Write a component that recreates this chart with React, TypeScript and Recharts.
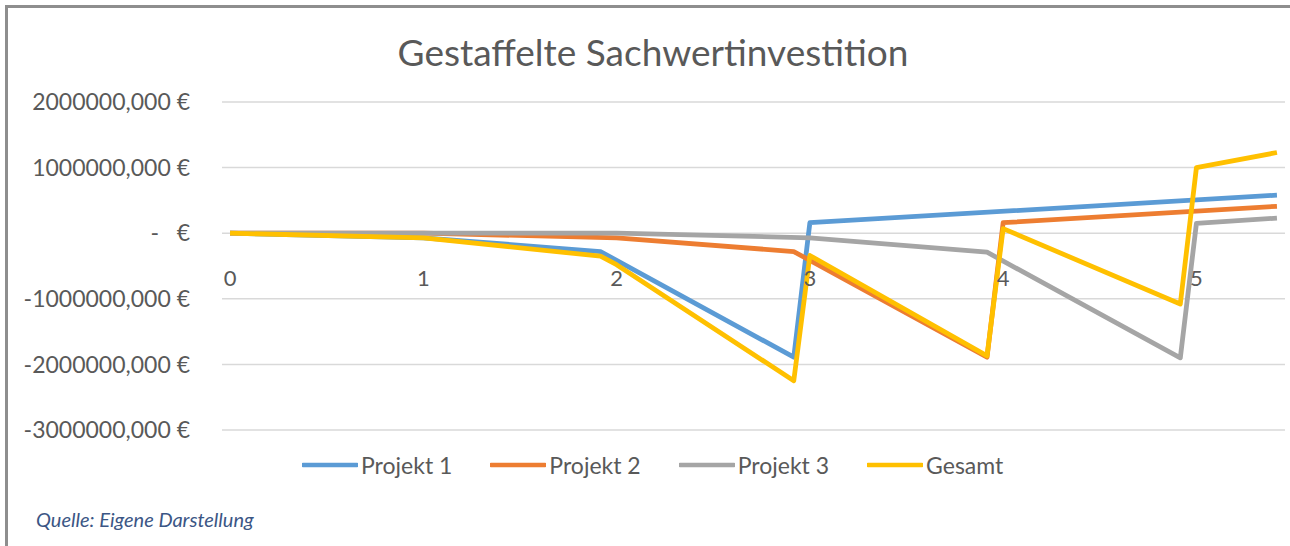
import { LineChart, Line, XAxis, YAxis, CartesianGrid, Legend } from "recharts";

// x = Monat (0..65), Beschriftung in Jahren
const yearTicks = [0, 12, 24, 36, 48, 60];
const valueTicks = [2000000, 1000000, 0, -1000000, -2000000, -3000000];

// Stützpunkte der Kurven (Monat, Wert in €)
const p1Months = [0, 12, 23, 35, 36, 65];
const p1Values = [0, -70000, -280000, -1890000, 160000, 580000];

const p2Months = [0, 12, 24, 35, 47, 48, 65];
const p2Values = [0, 0, -70000, -280000, -1890000, 160000, 410000];

const p3Months = [0, 24, 36, 47, 59, 60, 65];
const p3Values = [0, 0, -70000, -290000, -1900000, 150000, 230000];

const gesMonths = [0, 12, 23, 24, 35, 36, 47, 48, 59, 60, 65];
const gesValues = [0, -70000, -350000, -480000, -2250000, -340000, -1870000, 70000, -1080000, 1000000, 1230000];

const series = [
  { key: "p1", name: "Projekt 1", color: "#5B9BD5", months: p1Months, values: p1Values },
  { key: "p2", name: "Projekt 2", color: "#ED7D31", months: p2Months, values: p2Values },
  { key: "p3", name: "Projekt 3", color: "#A5A5A5", months: p3Months, values: p3Values },
  { key: "g", name: "Gesamt", color: "#FFC000", months: gesMonths, values: gesValues },
];

// gemeinsame Tabelle, fehlende Werte = null
const allMonths = Array.from(new Set(series.flatMap((s) => s.months))).sort((a, b) => a - b);
const table = allMonths.map((m) => {
  const row: Record<string, number | null> = { m };
  series.forEach((s) => {
    const i = s.months.indexOf(m);
    row[s.key] = i >= 0 ? s.values[i] : null;
  });
  return row;
});

const W = 1290;
const H = 546;
const Y_MIN = -3000000;
const Y_MAX = 2000000;
const M_TOP = 102;
const M_BOTTOM = 86;
const X_AXIS_H = 30;
const PLOT_H = H - M_TOP - M_BOTTOM - X_AXIS_H;
const ZERO_Y = M_TOP + (PLOT_H * Y_MAX) / (Y_MAX - Y_MIN);

const FONT = "Lato, 'Open Sans', sans-serif";
const TEXT = "#595959";

function YTick({ x, y, payload }: any) {
  const v = payload.value;
  const label = v === 0 ? "-   €" : `${v},000 €`;
  return (
    <text x={x} y={y} dy="0.36em" textAnchor="end" fill={TEXT} fontSize={23} fontFamily={FONT} style={{ whiteSpace: "pre" }}>
      {label}
    </text>
  );
}

function XTick({ x, payload }: any) {
  return (
    <text x={x} y={ZERO_Y + 45} dy="0.36em" textAnchor="middle" fill={TEXT} fontSize={22} fontFamily={FONT}>
      {payload.value / 12}
    </text>
  );
}

// Legende in der Reihenfolge der Serien (nicht alphabetisch)
function LegendContent() {
  return (
    <div style={{ display: "flex", gap: 38, fontFamily: FONT, fontSize: 23, color: TEXT }}>
      {series.map((s) => (
        <div key={s.key} style={{ display: "flex", alignItems: "center", gap: 3 }}>
          <svg width={56} height={8}>
            <line x1={1} y1={4} x2={55} y2={4} stroke={s.color} strokeWidth={4.5} strokeLinecap="round" />
          </svg>
          <span>{s.name}</span>
        </div>
      ))}
    </div>
  );
}

export default function App() {
  return (
    <div style={{ position: "absolute", left: 0, top: 0, width: W, height: H, background: "#fff", overflow: "hidden" }}>
      <div
        style={{
          position: "absolute",
          left: 5,
          top: 5,
          right: -4,
          bottom: 0,
          borderLeft: "3px solid #8e8e8e",
          borderTop: "3px solid #8e8e8e",
        }}
      />
      <div
        style={{
          position: "absolute",
          left: 0,
          top: 32,
          width: 1306,
          textAlign: "center",
          fontFamily: FONT,
          fontSize: 37,
          lineHeight: "40px",
          color: TEXT,
        }}
      >
        Gestaffelte Sachwertinvestition
      </div>
      <div style={{ position: "absolute", left: 0, top: 0 }}>
        <LineChart width={W} height={H} data={table} margin={{ top: M_TOP, right: 5, bottom: M_BOTTOM, left: 122 }}>
          <CartesianGrid horizontal vertical={false} stroke="#d9d9d9" strokeWidth={1.5} />
          <XAxis
            type="number"
            dataKey="m"
            domain={[-0.5, 65.5]}
            ticks={yearTicks}
            height={X_AXIS_H}
            axisLine={false}
            tickLine={false}
            tick={<XTick />}
          />
          <YAxis
            type="number"
            domain={[Y_MIN, Y_MAX]}
            ticks={valueTicks}
            width={100}
            axisLine={false}
            tickLine={false}
            tickSize={0}
            tickMargin={32}
            tick={<YTick />}
          />
          <Legend
            verticalAlign="middle"
            layout="horizontal"
            wrapperStyle={{ left: 302, top: 451, width: "auto" }}
            content={<LegendContent />}
          />
          {series.map((s) => (
            <Line
              key={s.key}
              type="linear"
              dataKey={s.key}
              name={s.name}
              stroke={s.color}
              strokeWidth={4.8}
              strokeLinejoin="round"
              dot={false}
              activeDot={false}
              connectNulls
              isAnimationActive={false}
            />
          ))}
        </LineChart>
      </div>
      <div
        style={{
          position: "absolute",
          left: 36,
          top: 507,
          fontFamily: FONT,
          fontStyle: "italic",
          fontSize: 20,
          color: "#3b5685",
        }}
      >
        Quelle: Eigene Darstellung
      </div>
    </div>
  );
}
